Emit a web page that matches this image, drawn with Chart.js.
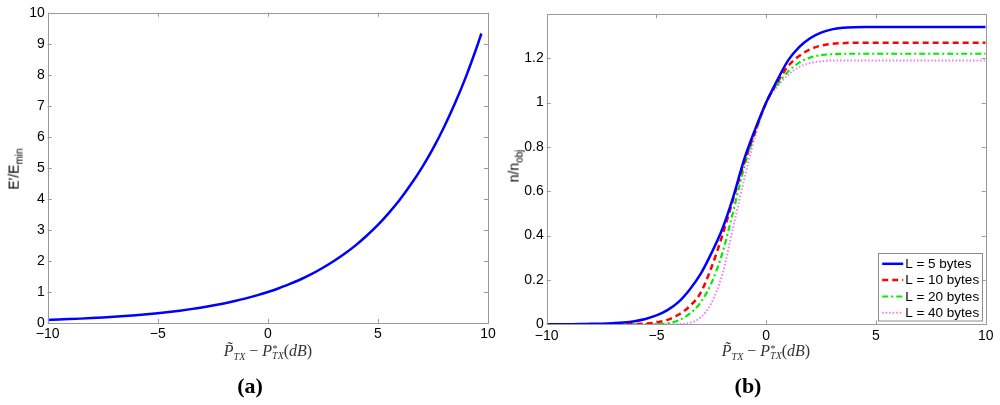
<!DOCTYPE html>
<html>
<head>
<meta charset="utf-8">
<script src="https://cdn.jsdelivr.net/npm/chart.js@4"></script>
<style>
  html, body { margin:0; padding:0; background:#fff; }
  #wrap { position:relative; width:1000px; height:405px; overflow:hidden; }
  canvas { position:absolute; top:0; }
  .lbl { position:absolute; white-space:nowrap; color:#000; }
  .ytitle { font-family:"Liberation Sans", Arial, sans-serif; font-weight:normal; font-size:14px; transform:translate(-50%,-50%) rotate(-90deg); }
  .xtitle { font-family:"Liberation Serif", "DejaVu Serif", serif; font-size:16px; color:#333; transform:translate(-50%,-50%); }
  .cap { font-family:"Liberation Serif", "Times New Roman", serif; font-weight:bold; font-size:22px; transform:translate(-50%,-50%); }
  .ss { display:inline-block; vertical-align:middle; line-height:0.75; font-size:10px; text-align:left; }
  sub { font-size:10px; }
</style>
</head>
<body>
<div id="wrap">
  <canvas id="cA" width="500" height="405" style="left:0"></canvas>
  <canvas id="cB" width="500" height="405" style="left:500px"></canvas>

  <div class="lbl ytitle" style="left:15px; top:169px;">E′/E<sub>min</sub></div>
  <div class="lbl ytitle" style="left:515px; top:166px;">n/n<sub>obj</sub></div>

  <div class="lbl xtitle" style="left:268px; top:352px;"><i>P̃</i><sub><i>TX</i></sub> − <i>P</i><span class="ss"><i>*</i><br><i>TX</i></span>(<i>dB</i>)</div>
  <div class="lbl xtitle" style="left:766px; top:352px;"><i>P̃</i><sub><i>TX</i></sub> − <i>P</i><span class="ss"><i>*</i><br><i>TX</i></span>(<i>dB</i>)</div>

  <div class="lbl cap" style="left:250px; top:386px;">(a)</div>
  <div class="lbl cap" style="left:748px; top:386px;">(b)</div>
</div>
<script>
// ---------- Data: panel (a) ----------
const xA = [-10,-9.5,-9,-8.5,-8,-7.5,-7,-6.5,-6,-5.5,-5,-4.5,-4,-3.5,-3,-2.5,-2,-1.5,-1,-0.5,0,0.5,1,1.5,2,2.5,3,3.5,4,4.5,5,5.5,6,6.5,7,7.5,8,8.5,9,9.5,9.7];
const energyRatio = [0.1,0.112,0.126,0.141,0.158,0.178,0.2,0.224,0.251,0.282,0.316,0.355,0.398,0.447,0.501,0.562,0.631,0.708,0.794,0.891,1.0,1.12,1.26,1.41,1.58,1.78,2.0,2.24,2.51,2.82,3.16,3.55,3.98,4.47,5.01,5.62,6.31,7.08,7.94,8.91,9.33];

// ---------- Data: panel (b) ----------
const xB = [-10,-9.5,-9,-8.5,-8,-7.5,-7,-6.5,-6,-5.5,-5,-4.5,-4,-3.5,-3,-2.5,-2,-1.5,-1,-0.5,0,0.5,1,1.5,2,2.5,3,3.5,4,4.5,5,5.5,6,6.5,7,7.5,8,8.5,9,9.5,10];
const nL5  = [0,0,0.0005,0.001,0.002,0.003,0.005,0.008,0.014,0.024,0.04,0.064,0.1,0.155,0.225,0.32,0.43,0.575,0.745,0.88,1.0,1.1,1.19,1.25,1.29,1.315,1.33,1.337,1.34,1.341,1.341,1.341,1.341,1.341,1.341,1.341,1.341,1.341,1.341,1.341,1.341];
const nL10 = [0,0,0,0,0,0,0,0.0005,0.001,0.003,0.008,0.02,0.043,0.08,0.14,0.255,0.4,0.565,0.73,0.87,1.0,1.09,1.165,1.21,1.24,1.257,1.265,1.268,1.27,1.27,1.27,1.27,1.27,1.27,1.27,1.27,1.27,1.27,1.27,1.27,1.27];
const nL20 = [0,0,0,0,0,0,0,0,0,0,0.0005,0.004,0.017,0.047,0.097,0.185,0.32,0.51,0.71,0.865,1.0,1.08,1.14,1.18,1.203,1.214,1.218,1.22,1.22,1.22,1.22,1.22,1.22,1.22,1.22,1.22,1.22,1.22,1.22,1.22,1.22];
const nL40 = [0,0,0,0,0,0,0,0,0,0,0,0,0.001,0.006,0.03,0.095,0.225,0.44,0.655,0.85,1.0,1.07,1.125,1.16,1.178,1.186,1.19,1.19,1.19,1.19,1.19,1.19,1.19,1.19,1.19,1.19,1.19,1.19,1.19,1.19,1.19];
const legendLabels = ['L = 5 bytes','L = 10 bytes','L = 20 bytes','L = 40 bytes'];

// ---------- Tick labels ----------
const xTicks = [-10,-5,0,5,10];
const yTicksA = [0,1,2,3,4,5,6,7,8,9,10];
const yTicksB = [0,0.2,0.4,0.6,0.8,1,1.2];

const FONT = { family: '"Liberation Sans", Arial, sans-serif', size: 14 };
const FRAME = '#9a9a9a';
const fmt = v => (v < 0 ? '\u2212' + Math.abs(v) : String(v));

const pts = (xs, ys) => xs.map((x, i) => ({ x: x, y: ys[i] }));

// frame + inward ticks on all four sides
const framePlugin = {
  id: 'frame',
  afterDraw(chart) {
    const { ctx, chartArea: a, scales } = chart;
    ctx.save();
    ctx.strokeStyle = FRAME;
    ctx.lineWidth = 1;
    ctx.strokeRect(Math.round(a.left) + 0.5, Math.round(a.top) + 0.5, Math.round(a.right - a.left), Math.round(a.bottom - a.top));
    const L = 4;
    ctx.beginPath();
    scales.x.ticks.forEach(t => {
      const px = Math.round(scales.x.getPixelForValue(t.value)) + 0.5;
      ctx.moveTo(px, a.bottom); ctx.lineTo(px, a.bottom - L);
      ctx.moveTo(px, a.top); ctx.lineTo(px, a.top + L);
    });
    scales.y.ticks.forEach(t => {
      const py = Math.round(scales.y.getPixelForValue(t.value)) + 0.5;
      ctx.moveTo(a.left, py); ctx.lineTo(a.left + L, py);
      ctx.moveTo(a.right, py); ctx.lineTo(a.right - L, py);
    });
    ctx.stroke();
    ctx.restore();
  }
};

// legend box inside plot area (bottom-right)
const legendPlugin = {
  id: 'insideLegend',
  afterDraw(chart) {
    if (!chart.options.plugins.insideLegend) return;
    const { ctx, chartArea: a } = chart;
    const w = 104, h = 67.5;
    const left = a.right - 3.5 - w, top = a.bottom - 3.5 - h;
    ctx.save();
    ctx.fillStyle = '#fff';
    ctx.fillRect(left, top, w, h);
    ctx.strokeStyle = '#8c8c8c';
    ctx.lineWidth = 1;
    ctx.strokeRect(Math.round(left) + 0.5, Math.round(top) + 0.5, w, h);
    ctx.font = '13.5px ' + FONT.family;
    ctx.textBaseline = 'middle';
    ctx.fillStyle = '#000';
    const rows = [10.5, 26.8, 43.2, 59.4];
    chart.data.datasets.forEach((ds, i) => {
      const y = top + rows[i];
      ctx.beginPath();
      ctx.strokeStyle = ds.borderColor;
      ctx.lineWidth = ds.borderWidth;
      ctx.setLineDash(ds.borderDash || []);
      ctx.moveTo(left + 4, y); ctx.lineTo(left + 25, y);
      ctx.stroke();
      ctx.setLineDash([]);
      ctx.fillText(legendLabels[i], left + 27, y + 0.5);
    });
    ctx.restore();
  }
};

function makeScales(yMin, yMax, yTicks, yWidth, xHeight) {
  return {
    x: {
      type: 'linear', min: -10, max: 10,
      afterBuildTicks: s => { s.ticks = xTicks.map(v => ({ value: v })); },
      afterFit: s => { s.height = xHeight; },
      grid: { display: false, drawTicks: false },
      border: { display: false },
      ticks: { color: '#000', font: FONT, padding: 3, maxRotation: 0, callback: v => fmt(v) }
    },
    y: {
      type: 'linear', min: yMin, max: yMax,
      afterBuildTicks: s => { s.ticks = yTicks.map(v => ({ value: v })); },
      afterFit: s => { s.width = yWidth; },
      grid: { display: false, drawTicks: false },
      border: { display: false },
      ticks: { color: '#000', font: FONT, padding: 3, callback: v => fmt(Math.round(v * 10) / 10) }
    }
  };
}

Chart.defaults.animation = false;

new Chart(document.getElementById('cA'), {
  type: 'line',
  data: {
    datasets: [{
      data: pts(xA, energyRatio),
      borderColor: '#0000ff', borderWidth: 2.5, pointRadius: 0,
      cubicInterpolationMode: 'monotone', fill: false
    }]
  },
  options: {
    responsive: false, animation: false,
    layout: { padding: { top: 12.7, right: 12, left: 0, bottom: 0 } },
    plugins: { legend: { display: false }, tooltip: { enabled: false } },
    scales: makeScales(0, 10, yTicksA, 47.7, 82)
  },
  plugins: [framePlugin]
});

new Chart(document.getElementById('cB'), {
  type: 'line',
  data: {
    datasets: [
      { data: pts(xB, nL5),  borderColor: '#0000ff', borderWidth: 2.5, pointRadius: 0, cubicInterpolationMode: 'monotone', fill: false },
      { data: pts(xB, nL10), borderColor: '#ff0000', borderWidth: 2.5, borderDash: [6, 4], pointRadius: 0, cubicInterpolationMode: 'monotone', fill: false },
      { data: pts(xB, nL20), borderColor: '#00ee00', borderWidth: 2.2, borderDash: [6, 3, 2, 3], pointRadius: 0, cubicInterpolationMode: 'monotone', fill: false },
      { data: pts(xB, nL40), borderColor: '#f07cf0', borderWidth: 2, borderDash: [1.5, 2], pointRadius: 0, cubicInterpolationMode: 'monotone', fill: false }
    ]
  },
  options: {
    responsive: false, animation: false,
    layout: { padding: { top: 14.3, right: 14.3, left: 0, bottom: 0 } },
    plugins: { legend: { display: false }, tooltip: { enabled: false }, insideLegend: true },
    scales: makeScales(0, 1.398, yTicksB, 46.7, 80.7)
  },
  plugins: [framePlugin, legendPlugin]
});
</script>
</body>
</html>
